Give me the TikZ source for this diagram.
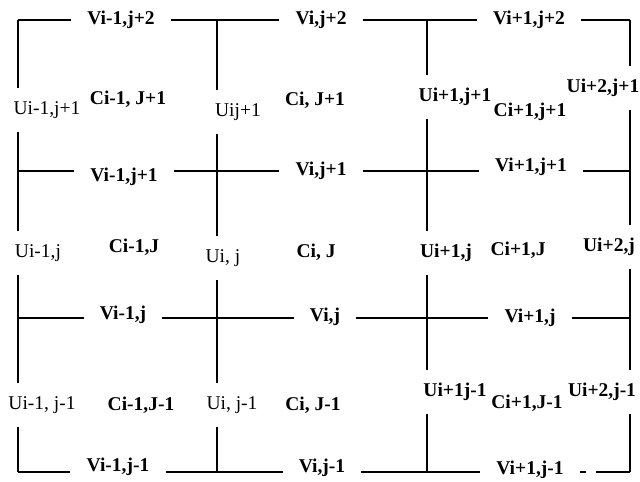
\documentclass[tikz,border=0pt]{standalone}
\usepackage{fontspec}
\setmainfont{Liberation Serif}
\usepackage{tikz}
\usetikzlibrary{positioning,calc}
\newcommand{\labfont}{\fontsize{19.5}{21}\selectfont}

\begin{document}
\begin{tikzpicture}[
    x=1pt, y=-1pt,
    wall/.style={line width=1.8pt},
    vlab/.style={font=\labfont\bfseries, inner xsep=16pt, inner ysep=0pt},
    ulab/.style={font=\labfont, text height=13pt, text depth=4pt, inner ysep=13.5pt, inner xsep=0pt},
    ulabb/.style={ulab, font=\labfont\bfseries},
    clab/.style={font=\labfont\bfseries, inner sep=0pt}
]
    \useasboundingbox (0,0) rectangle (640,482);

    % Grid points (column, row)
    \coordinate (p00) at (18,20);  \coordinate (p10) at (217,20);  \coordinate (p20) at (427,20);  \coordinate (p30) at (630,20);
    \coordinate (p01) at (18,171); \coordinate (p11) at (217,171); \coordinate (p21) at (427,171); \coordinate (p31) at (630,171);
    \coordinate (p02) at (18,318); \coordinate (p12) at (217,318); \coordinate (p22) at (427,318); \coordinate (p32) at (630,318);
    \coordinate (p03) at (18,472); \coordinate (p13) at (217,472); \coordinate (p23) at (427,472); \coordinate (p33) at (630,472);

    % V velocities on horizontal faces
    \node[vlab] (v00) at (121,20)  {Vi-1,j+2};
    \node[vlab] (v10) at (321,20)  {Vi,j+2};
    \node[vlab] (v20) at (529,20)  {Vi+1,j+2};
    \node[vlab] (v01) at (124,177) {Vi-1,j+1};
    \node[vlab] (v11) at (321,171) {Vi,j+1};
    \node[vlab] (v21) at (531,167) {Vi+1,j+1};
    \node[vlab] (v02) at (123,315) {Vi-1,j};
    \node[vlab] (v12) at (325,317) {Vi,j};
    \node[vlab] (v22) at (530,318) {Vi+1,j};
    \node[vlab] (v03) at (118,467) {Vi-1,j-1};
    \node[vlab] (v13) at (322,468) {Vi,j-1};
    \node[vlab] (v23) at (530,470) {Vi+1,j-1};

    % U velocities on vertical faces
    \node[ulab]  (u00) at (47,110)  {Ui-1,j+1};
    \node[ulab]  (u10) at (238,112) {Uij+1};
    \node[ulabb] (u20) at (455,97)  {Ui+1,j+1};
    \node[ulabb] (u30) at (603,88)  {Ui+2,j+1};
    \node[ulab]  (u01) at (38,253)  {Ui-1,j};
    \node[ulab]  (u11) at (223,258) {Ui, j};
    \node[ulabb] (u21) at (446,253) {Ui+1,j};
    \node[ulabb] (u31) at (609,247) {Ui+2,j};
    \node[ulab]  (u02) at (42,405)  {Ui-1, j-1};
    \node[ulab]  (u12) at (232,405) {Ui, j-1};
    \node[ulabb] (u22) at (455,392) {Ui+1j-1};
    \node[ulabb] (u32) at (602,392) {Ui+2,j-1};

    % Cell centres
    \node[clab] (c00) at (128,99)  {Ci-1, J+1};
    \node[clab] (c10) at (315,100) {Ci, J+1};
    \node[clab] (c20) at (530,112) {Ci+1,j+1};
    \node[clab] (c01) at (134,247) {Ci-1,J};
    \node[clab] (c11) at (316,252) {Ci, J};
    \node[clab] (c21) at (518,250) {Ci+1,J};
    \node[clab] (c02) at (141,405) {Ci-1,J-1};
    \node[clab] (c12) at (313,405) {Ci, J-1};
    \node[clab] (c22) at (527,403) {Ci+1,J-1};

    % Horizontal faces
    \draw[wall] (p00) -- (v00.west |- p00) (v00.east |- p00) -- (v10.west |- p00)
        (v10.east |- p00) -- (v20.west |- p00) (v20.east |- p00) -- (p30);
    \draw[wall] (p01) -- (v01.west |- p01) (v01.east |- p01) -- (v11.west |- p01)
        (v11.east |- p01) -- (v21.west |- p01) (v21.east |- p01) -- (p31);
    \draw[wall] (p02) -- (v02.west |- p02) (v02.east |- p02) -- (v12.west |- p02)
        (v12.east |- p02) -- (v22.west |- p02) (v22.east |- p02) -- (p32);
    \draw[wall] (p03) -- (v03.west |- p03) (v03.east |- p03) -- (v13.west |- p03)
        (v13.east |- p03) -- (v23.west |- p03);
    \draw[wall, dash pattern=on 6pt off 10pt on 60pt] (v23.east |- p03) -- (p33);

    % Vertical faces
    \draw[wall] (p00) -- (p00 |- u00.north) (p00 |- u00.south) -- (p00 |- u01.north)
        (p00 |- u01.south) -- (p00 |- u02.north) (p00 |- u02.south) -- (p03);
    \draw[wall] (p10) -- (p10 |- u10.north) (p10 |- u10.south) -- (p10 |- u11.north)
        (p10 |- u11.south) -- (p10 |- u12.north) (p10 |- u12.south) -- (p13);
    \draw[wall] (p20) -- (p20 |- u20.north) (p20 |- u20.south) -- (p20 |- u21.north)
        (p20 |- u21.south) -- (p20 |- u22.north) (p20 |- u22.south) -- (p23);
    \draw[wall] (p30) -- (p30 |- u30.north) (p30 |- u30.south) -- (p30 |- u31.north)
        (p30 |- u31.south) -- (p30 |- u32.north) (p30 |- u32.south) -- (p33);
\end{tikzpicture}
\end{document}
